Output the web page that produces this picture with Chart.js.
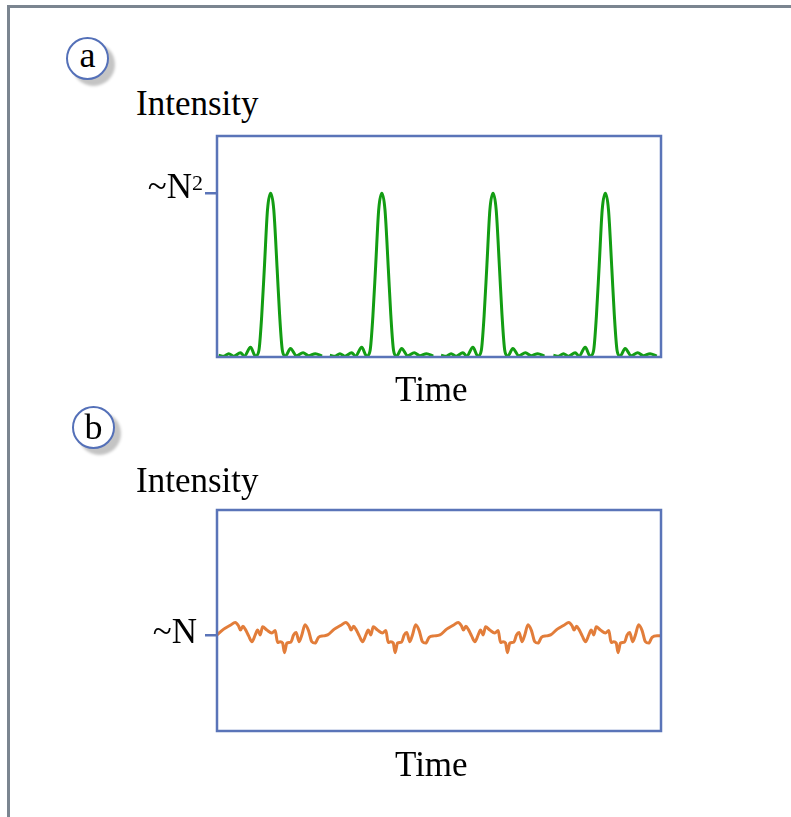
<!DOCTYPE html>
<html>
<head>
<meta charset="utf-8">
<script src="https://cdn.jsdelivr.net/npm/chart.js@4.4.1/dist/chart.umd.min.js"></script>
<style>
body{margin:0;background:#fff;}
#page{position:relative;width:791px;height:817px;overflow:hidden;font-family:"Liberation Serif","Times New Roman",serif;color:#000;}
#frame{position:absolute;left:7px;top:5px;width:900px;height:900px;border-top:3px solid #7b8590;border-left:3px solid #7b8590;}
.txt{position:absolute;font-size:35px;line-height:35px;white-space:nowrap;}
.sup{position:absolute;font-size:22px;line-height:22px;}
.badge{position:absolute;width:43px;height:43px;box-sizing:border-box;border:2px solid #5470b8;border-radius:50%;background:#fff;box-shadow:6px 6px 3px #c4c4c4;}
.letter{position:absolute;width:43px;text-align:center;font-size:36px;line-height:36px;}
canvas{position:absolute;left:0;}
</style>
</head>
<body>
<div id="page">
  <div id="frame"></div>

  <div class="badge" style="left:66px;top:37px;"></div>
  <div class="letter" style="left:66px;top:37px;">a</div>
  <div class="txt" style="left:136px;top:86px;">Intensity</div>
  <canvas id="chartA" width="791" height="420" style="top:0;"></canvas>
  <div class="sup" style="left:192px;top:172px;">2</div>
  <div class="txt" style="left:395px;top:372px;">Time</div>

  <div class="badge" style="left:72px;top:406px;"></div>
  <div class="letter" style="left:72px;top:409px;">b</div>
  <div class="txt" style="left:136px;top:463px;">Intensity</div>
  <canvas id="chartB" width="791" height="397" style="top:420px;"></canvas>
  <div class="txt" style="left:395px;top:747px;">Time</div>
</div>

<script>
// panel a: coherent pulses (time in arbitrary units, null = break in the trace)
const timeA = [
  0.15, 0.6, 1.05, 1.5, 2.1, 2.45, 3.0, 3.44, 3.75, 4.0, 4.25, 4.52, 4.8, 5.08, 5.38, 5.6, 5.85, 6.12, 6.57, 7.1, 7.7, 8.2, 8.8, 9.4,
  9.75,
  10.1, 10.55, 11.0, 11.45, 12.05, 12.4, 12.95, 13.39, 13.7, 13.95, 14.2, 14.47, 14.75, 15.03, 15.33, 15.55, 15.8, 16.07, 16.52, 17.05, 17.65, 18.15, 18.75, 19.35,
  19.7,
  20.05, 20.5, 20.95, 21.4, 22.0, 22.35, 22.9, 23.34, 23.65, 23.9, 24.15, 24.42, 24.7, 24.98, 25.28, 25.5, 25.75, 26.02, 26.47, 27.0, 27.6, 28.1, 28.7, 29.3,
  29.65,
  30.1, 30.55, 31.0, 31.45, 32.05, 32.4, 32.95, 33.39, 33.7, 33.95, 34.2, 34.47, 34.75, 35.03, 35.33, 35.55, 35.8, 36.07, 36.52, 37.05, 37.65, 38.15, 38.75, 39.35
];
const intensityA = [
  0.011, 0.005, 0.02, 0.005, 0.026, 0.005, 0.06, 0.005, 0.04, 0.25, 0.56, 0.9, 1.0, 0.9, 0.54, 0.26, 0.04, 0.005, 0.052, 0.008, 0.026, 0.008, 0.02, 0.005,
  null,
  0.011, 0.005, 0.02, 0.005, 0.026, 0.005, 0.06, 0.005, 0.04, 0.25, 0.56, 0.9, 1.0, 0.9, 0.54, 0.26, 0.04, 0.005, 0.052, 0.008, 0.026, 0.008, 0.02, 0.005,
  null,
  0.011, 0.005, 0.02, 0.005, 0.026, 0.005, 0.06, 0.005, 0.04, 0.25, 0.56, 0.9, 1.0, 0.9, 0.54, 0.26, 0.04, 0.005, 0.052, 0.008, 0.026, 0.008, 0.02, 0.005,
  null,
  0.011, 0.005, 0.02, 0.005, 0.026, 0.005, 0.06, 0.005, 0.04, 0.25, 0.56, 0.9, 1.0, 0.9, 0.54, 0.26, 0.04, 0.005, 0.052, 0.008, 0.026, 0.008, 0.02, 0.005
];

// panel b: incoherent noise around ~N
const timeB = [
  0, 0.6, 1.19, 1.63, 1.92, 2.1, 2.32, 2.55, 2.83, 3.13, 3.42, 3.63, 3.87, 4.08, 4.46, 4.91, 5.21, 5.42, 5.65, 5.87, 6.04, 6.25, 6.61, 6.85, 7.08, 7.35, 7.59, 7.88, 8.19, 8.48, 8.78, 9.08, 9.53,
  9.9, 10.5, 11.09, 11.53, 11.82, 12.0, 12.22, 12.45, 12.73, 13.03, 13.32, 13.53, 13.77, 13.98, 14.36, 14.81, 15.11, 15.32, 15.55, 15.77, 15.94, 16.15, 16.51, 16.75, 16.98, 17.25, 17.49, 17.78, 18.09, 18.38, 18.68, 18.98, 19.43,
  19.95, 20.55, 21.14, 21.58, 21.87, 22.05, 22.27, 22.5, 22.78, 23.08, 23.37, 23.58, 23.82, 24.03, 24.41, 24.86, 25.16, 25.37, 25.6, 25.82, 25.99, 26.2, 26.56, 26.8, 27.03, 27.3, 27.54, 27.83, 28.14, 28.43, 28.73, 29.03, 29.48,
  29.85, 30.45, 31.04, 31.48, 31.77, 31.95, 32.17, 32.4, 32.68, 32.98, 33.27, 33.48, 33.72, 33.93, 34.31, 34.76, 35.06, 35.27, 35.5, 35.72, 35.89, 36.1, 36.46, 36.7, 36.93, 37.2, 37.44, 37.73, 38.04, 38.33, 38.63, 38.93, 39.38,
  39.73
];
const intensityB = [
  1.0, 1.06, 1.10, 1.13, 1.095, 1.05, 1.09, 1.055, 0.99, 0.93, 1.0, 1.05, 1.0, 1.085, 1.05, 1.02, 1.045, 0.92, 0.93, 0.915, 0.815, 0.915, 0.925, 1.0, 1.025, 0.93, 1.0, 1.105, 1.045, 0.93, 0.915, 0.975, 0.99,
  1.0, 1.06, 1.10, 1.13, 1.095, 1.05, 1.09, 1.055, 0.99, 0.93, 1.0, 1.05, 1.0, 1.085, 1.05, 1.02, 1.045, 0.92, 0.93, 0.915, 0.815, 0.915, 0.925, 1.0, 1.025, 0.93, 1.0, 1.105, 1.045, 0.93, 0.915, 0.975, 0.99,
  1.0, 1.06, 1.10, 1.13, 1.095, 1.05, 1.09, 1.055, 0.99, 0.93, 1.0, 1.05, 1.0, 1.085, 1.05, 1.02, 1.045, 0.92, 0.93, 0.915, 0.815, 0.915, 0.925, 1.0, 1.025, 0.93, 1.0, 1.105, 1.045, 0.93, 0.915, 0.975, 0.99,
  1.0, 1.06, 1.10, 1.13, 1.095, 1.05, 1.09, 1.055, 0.99, 0.93, 1.0, 1.05, 1.0, 1.085, 1.05, 1.02, 1.045, 0.92, 0.93, 0.915, 0.815, 0.915, 0.925, 1.0, 1.025, 0.93, 1.0, 1.105, 1.045, 0.93, 0.915, 0.975, 0.99,
  0.99
];

const timeMax = 39.73;
const tickA = ['~N'];   // superscript 2 added beside it
const tickB = ['~N'];

const BOX_BLUE = '#5a74b8';
const SERIF = '"Liberation Serif", "Times New Roman", serif';

const boxPlugin = {
  id: 'box',
  afterDatasetsDraw(chart) {
    const { ctx, chartArea: a } = chart;
    ctx.save();
    ctx.strokeStyle = BOX_BLUE;
    ctx.lineWidth = 2.5;
    ctx.strokeRect(a.left, a.top, a.right - a.left, a.bottom - a.top);
    ctx.restore();
  }
};

function makeChart(id, xs, ys, color, lineW, yMax, label, labelOff, labelPad, padTop, padBottom) {
  return new Chart(document.getElementById(id), {
    type: 'line',
    data: {
      datasets: [{
        data: xs.map((x, i) => ({ x: x, y: ys[i] })),
        borderColor: color,
        borderWidth: lineW,
        pointRadius: 0,
        cubicInterpolationMode: 'monotone',
        spanGaps: false,
        fill: false
      }]
    },
    options: {
      responsive: false,
      animation: false,
      layout: { padding: { top: padTop, right: 130, bottom: padBottom, left: 0 } },
      plugins: { legend: { display: false }, tooltip: { enabled: false } },
      scales: {
        x: { type: 'linear', min: 0, max: timeMax, display: false },
        y: {
          min: 0, max: yMax,
          afterBuildTicks: s => { s.ticks = [{ value: 1 }]; },
          afterFit: s => { s.width = 217; },
          border: { display: false },
          grid: { drawOnChartArea: false, drawTicks: true, tickLength: 12, color: BOX_BLUE, lineWidth: 2.5 },
          ticks: {
            callback: () => label,
            color: '#000',
            padding: labelPad,
            labelOffset: labelOff,
            font: { family: SERIF, size: 35 }
          }
        }
      }
    },
    plugins: [boxPlugin]
  });
}

makeChart('chartA', timeA, intensityA, '#139d13', 3, 1.35, tickA[0], -4, 13, 136, 63);
makeChart('chartB', timeB, intensityB, '#e27d3a', 3, 2.3, tickB[0], -1, 8, 90, 86);
</script>
</body>
</html>
